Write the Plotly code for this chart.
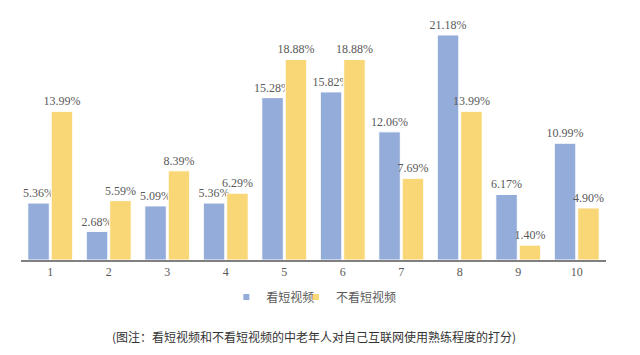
import plotly.graph_objects as go

categories = ["1", "2", "3", "4", "5", "6", "7", "8", "9", "10"]
watch = [5.36, 2.68, 5.09, 5.36, 15.28, 15.82, 12.06, 21.18, 6.17, 10.99]
no_watch = [13.99, 5.59, 8.39, 6.29, 18.88, 18.88, 7.69, 13.99, 1.40, 4.90]
series_names = ["看短视频", "不看短视频"]
colors = ["#94ACD9", "#F9D776"]
caption = "(图注：看短视频和不看短视频的中老年人对自己互联网使用熟练程度的打分)"

label_font = dict(family="Liberation Serif, DejaVu Serif, serif", size=12, color="#595959")
legend_font = dict(family="Noto Sans CJK SC", size=12, color="#595959")

fig = go.Figure()
for name, vals, col in zip(series_names, [watch, no_watch], colors):
    fig.add_trace(go.Bar(
        x=categories, y=vals, name=name, showlegend=False,
        marker=dict(color=col, line=dict(color="white", width=1)),
        text=[f"{v:.2f}%" for v in vals], textposition="outside",
        textfont=label_font, cliponaxis=False, constraintext="none",
    ))
for name, col, lg in zip(series_names, colors, ["legend", "legend2"]):
    fig.add_trace(go.Scatter(
        x=[None], y=[None], mode="markers", name=name, legend=lg,
        marker=dict(symbol="square", size=6, color=col),
    ))

fig.update_layout(
    width=640, height=355,
    margin=dict(l=21, r=34, t=5, b=95),
    paper_bgcolor="white", plot_bgcolor="white",
    barmode="group", bargap=0.2, bargroupgap=0.08,
    xaxis=dict(showline=True, linecolor="#808080", linewidth=1.5, ticks="",
               tickfont=dict(family="Liberation Serif, DejaVu Serif, serif", size=12, color="#595959"),
               showgrid=False),
    yaxis=dict(range=[0, 24], visible=False, showgrid=False),
    legend=dict(orientation="h", x=0.351, xanchor="left", y=-0.145, yanchor="middle",
                font=legend_font, itemwidth=30, bgcolor="rgba(0,0,0,0)"),
    legend2=dict(orientation="h", x=0.47, xanchor="left", y=-0.145, yanchor="middle",
                 font=legend_font, itemwidth=30, bgcolor="rgba(0,0,0,0)"),
    showlegend=True,
    annotations=[dict(text=caption, x=0.5, xref="paper", xanchor="center",
                      y=-0.30, yref="paper", yanchor="middle", showarrow=False,
                      font=dict(family="Noto Sans CJK SC", size=12, color="#333333"))],
)
fig.write_html("out.html")
